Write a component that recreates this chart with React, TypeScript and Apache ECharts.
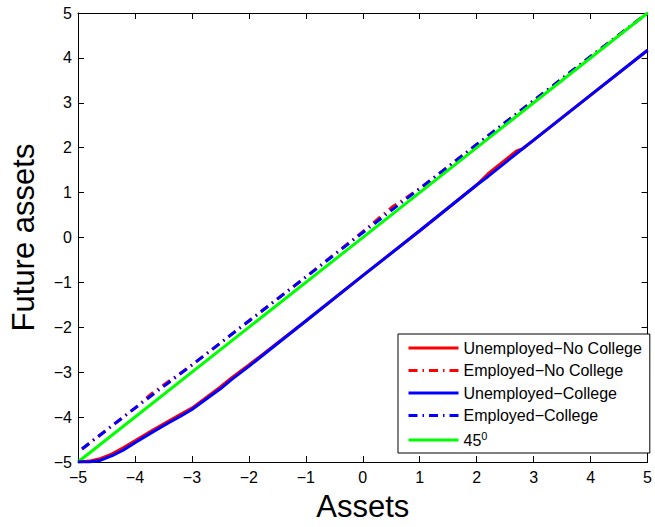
import React, { useEffect, useRef } from "react";
import * as echarts from "echarts";

const xTicks = [-5, -4, -3, -2, -1, 0, 1, 2, 3, 4, 5];

const unempNoCollegeX = [-5, -4.8, -4.6, -4.4, -4.2, -4, -3.7, -3.4, -3.2, -3, -2.5, -2.3, -2, -1, 0, 1, 2, 2.2, 2.7, 2.8, 3, 4, 5];
const unempNoCollegeY = [-5, -4.98, -4.92, -4.82, -4.68, -4.53, -4.3, -4.08, -3.94, -3.8, -3.33, -3.12, -2.84, -1.86, -0.85, 0.15, 1.17, 1.42, 1.93, 1.97, 2.17, 3.17, 4.17];

const empNoCollegeX = [-4.93, -4, -3.7, -3, -2, -1, 0, 0.5, 1, 2, 3, 4, 5];
const empNoCollegeY = [-4.71, -3.8, -3.47, -2.84, -1.86, -0.88, 0.13, 0.66, 1.09, 2.07, 3.05, 4.03, 5.0];

const unempCollegeX = [-5, -4.8, -4.6, -4.4, -4.2, -4, -3.7, -3.4, -3.2, -3, -2.5, -2.3, -2, -1, 0, 1, 2, 2.2, 2.7, 3, 4, 5];
const unempCollegeY = [-5, -5, -4.96, -4.86, -4.73, -4.57, -4.34, -4.12, -3.98, -3.83, -3.37, -3.16, -2.87, -1.86, -0.85, 0.15, 1.17, 1.36, 1.87, 2.17, 3.17, 4.17];

const empCollegeX = [-4.93, -4, -3, -2, -1, 0, 1, 2, 3, 4, 5];
const empCollegeY = [-4.71, -3.8, -2.84, -1.86, -0.88, 0.11, 1.09, 2.07, 3.05, 4.03, 5.0];

const diagX = [-5, 5];
const diagY = [-5, 5];

const seriesNames = ["Unemployed−No College", "Employed−No College", "Unemployed−College", "Employed−College", "45"];

const zip = (xs: number[], ys: number[]) => xs.map((x, i) => [x, ys[i]]);
const minus = (v: number) => String(v).replace("-", "−");

export default function App() {
  const ref = useRef<HTMLDivElement>(null);
  useEffect(() => {
    document.body.style.margin = "0";
    const chart = echarts.init(ref.current!, undefined, { renderer: "svg" });
    const font = "'Liberation Sans', Arial, sans-serif";
    const dashDot = [9, 5, 1.5, 5];
    const axisCommon = {
      type: "value" as const,
      min: -5,
      max: 5,
      interval: 1,
      axisLine: { show: true, onZero: false, lineStyle: { color: "#000", width: 1 } },
      axisTick: { show: true, inside: true, length: 6, lineStyle: { color: "#000" } },
      splitLine: { show: false },
    };
    const mk = (name: string, data: number[][], color: string, type: any, z: number) => ({
      name,
      type: "line",
      data,
      symbol: "none",
      showSymbol: false,
      z,
      lineStyle: { color, width: 3, type },
      itemStyle: { color },
    });
    chart.setOption({
      animation: false,
      grid: { left: 76, right: 4, top: 13, bottom: 62, containLabel: false },
      xAxis: [
        {
          ...axisCommon,
          position: "bottom",
          name: "Assets",
          nameLocation: "middle",
          nameGap: 29,
          nameTextStyle: { fontFamily: font, fontSize: 31, color: "#000" },
          axisLabel: { fontFamily: font, fontSize: 16, color: "#000", margin: 7, formatter: minus },
        },
        { ...axisCommon, position: "top", axisLabel: { show: false } },
      ],
      yAxis: [
        {
          ...axisCommon,
          position: "left",
          name: "Future assets",
          nameLocation: "middle",
          nameGap: 39,
          nameTextStyle: { fontFamily: font, fontSize: 31, color: "#000" },
          axisLabel: { fontFamily: font, fontSize: 16, color: "#000", margin: 6, formatter: minus },
        },
        { ...axisCommon, position: "right", axisLabel: { show: false } },
      ],
      legend: {
        orient: "vertical",
        left: 398,
        top: 334,
        padding: [6, 8, 5, 9],
        itemGap: 6.5,
        itemWidth: 50,
        itemHeight: 14,
        borderColor: "#000",
        borderWidth: 1,
        borderRadius: 0,
        backgroundColor: "#fff",
        data: seriesNames,
        itemStyle: { opacity: 0 },
        lineStyle: { width: 3 },
        formatter: (n: string) => (n === "45" ? "45{sup|0}" : n),
        textStyle: {
          fontFamily: font,
          fontSize: 16,
          color: "#000",
          padding: [0, 0, 0, 0],
          rich: { sup: { fontFamily: font, fontSize: 11, verticalAlign: "bottom", padding: [0, 0, 9, 0], color: "#000" } },
        },
      },
      series: [
        mk(seriesNames[1], zip(empNoCollegeX, empNoCollegeY), "#ff0000", dashDot, 2),
        mk(seriesNames[3], zip(empCollegeX, empCollegeY), "#0000ff", dashDot, 3),
        mk(seriesNames[4], zip(diagX, diagY), "#00ff00", "solid", 4),
        mk(seriesNames[0], zip(unempNoCollegeX, unempNoCollegeY), "#ff0000", "solid", 5),
        mk(seriesNames[2], zip(unempCollegeX, unempCollegeY), "#0000ff", "solid", 6),
      ],
    });
    return () => chart.dispose();
  }, []);
  return <div ref={ref} style={{ width: 655, height: 527 }} />;
}
